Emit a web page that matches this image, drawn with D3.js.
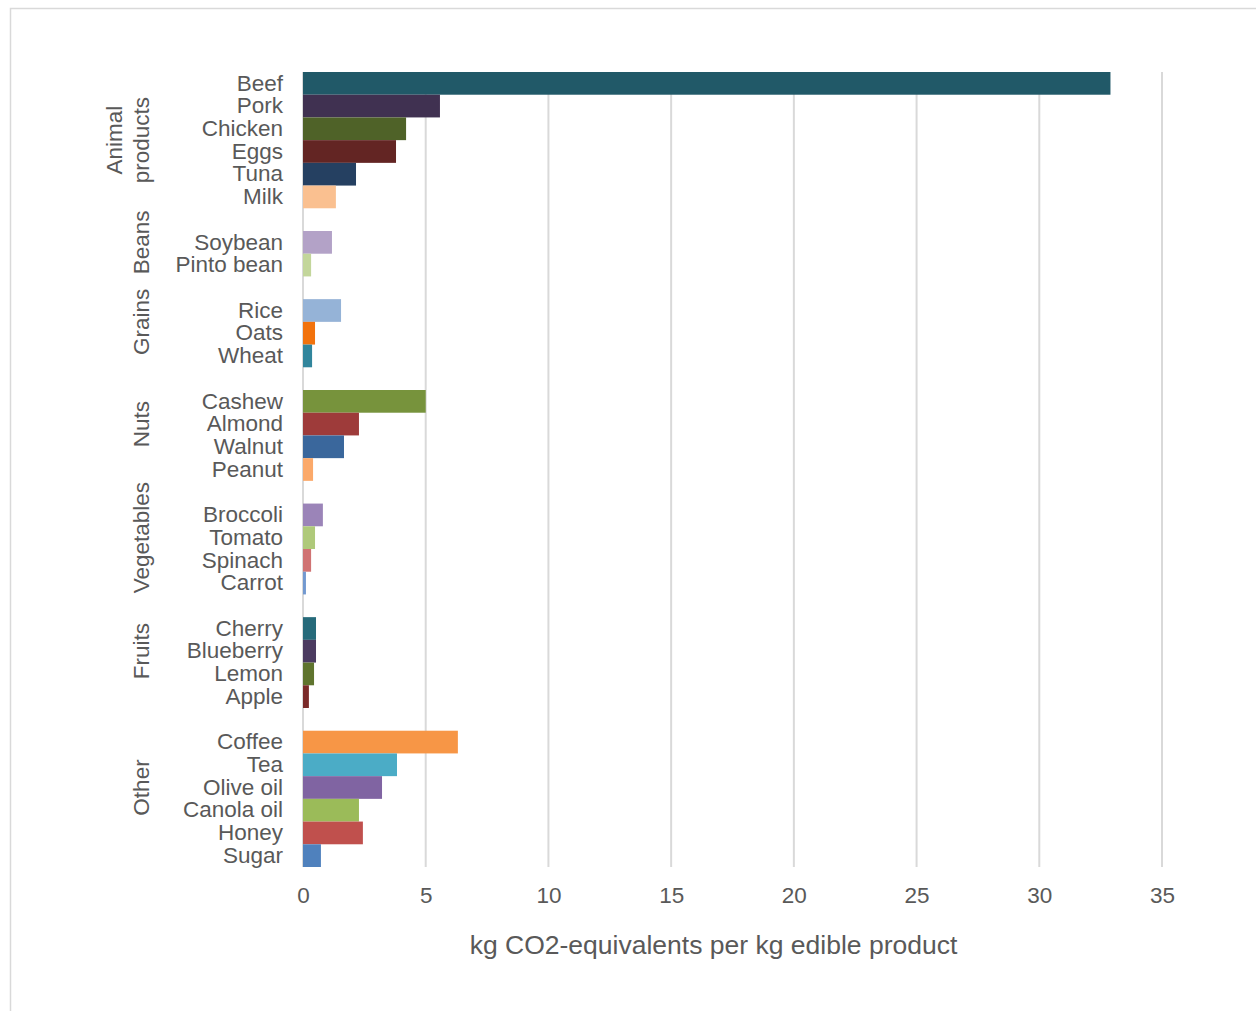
<!DOCTYPE html>
<html>
<head>
<meta charset="utf-8">
<script src="https://cdn.jsdelivr.net/npm/d3@7"></script>
<style>
  html, body { margin: 0; padding: 0; background: #fff; }
  svg { display: block; font-family: "Liberation Sans", Arial, sans-serif; }
</style>
</head>
<body>
<svg id="chart" width="1256" height="1011"></svg>
<script>
// Greenhouse gas emissions per kg of edible product, grouped by food type
const groupNames = ["Animal products", "Beans", "Grains", "Nuts", "Vegetables", "Fruits", "Other"];
const groupSizes = [6, 2, 3, 4, 4, 4, 6];
const categories = [
  "Beef", "Pork", "Chicken", "Eggs", "Tuna", "Milk",
  "Soybean", "Pinto bean",
  "Rice", "Oats", "Wheat",
  "Cashew", "Almond", "Walnut", "Peanut",
  "Broccoli", "Tomato", "Spinach", "Carrot",
  "Cherry", "Blueberry", "Lemon", "Apple",
  "Coffee", "Tea", "Olive oil", "Canola oil", "Honey", "Sugar"
];
const values = [
  32.9, 5.58, 4.2, 3.79, 2.16, 1.34,
  1.18, 0.33,
  1.55, 0.49, 0.37,
  5.0, 2.28, 1.67, 0.41,
  0.81, 0.49, 0.33, 0.12,
  0.53, 0.53, 0.45, 0.24,
  6.31, 3.83, 3.22, 2.28, 2.44, 0.73
];
const barColors = [
  "#215968", "#403151", "#4f6228", "#632523", "#254061", "#fac090",
  "#b3a2c7", "#c3d69b",
  "#95b3d7", "#f2720c", "#31859c",
  "#77933c", "#9e3b3a", "#3a679c", "#fba96a",
  "#9b84b8", "#afc97a", "#d07373", "#7299d0",
  "#266a7a", "#4b3b60", "#5f742e", "#7a2a29",
  "#f79646", "#4bacc6", "#8064a2", "#9bbb59", "#c0504d", "#4f81bd"
];
const xTicks = [0, 5, 10, 15, 20, 25, 30, 35];
const xTitle = "kg CO2-equivalents per kg edible product";

const textColor = "#595959";
const gridColor = "#d9d9d9";
const font = "'Liberation Sans', Arial, sans-serif";

// Build row list: a blank spacer slot precedes every group except the first
const rows = [];
const groupSpans = [];
let k = 0;
groupNames.forEach((g, gi) => {
  const start = rows.length;
  if (gi > 0) rows.push({ key: "gap" + gi, blank: true });
  for (let j = 0; j < groupSizes[gi]; j++, k++) {
    rows.push({ key: categories[k], name: categories[k], value: values[k], color: barColors[k], group: g });
  }
  groupSpans.push({ name: g, first: rows[start].key, last: rows[rows.length - 1].key });
});

const svg = d3.select("#chart");

// outer frame
svg.append("rect")
  .attr("x", 10.5).attr("y", 8.5)
  .attr("width", 1300).attr("height", 1100)
  .attr("fill", "none").attr("stroke", gridColor).attr("stroke-width", 1.5);

const plot = { left: 303, right: 1162, top: 72, bottom: 867 };

const x = d3.scaleLinear().domain([0, 35]).range([plot.left, plot.right]);
const y = d3.scaleBand().domain(rows.map(r => r.key)).range([plot.top, plot.bottom]).padding(0);

// vertical gridlines
svg.append("g").selectAll("line")
  .data(xTicks)
  .join("line")
  .attr("x1", d => x(d)).attr("x2", d => x(d))
  .attr("y1", plot.top).attr("y2", plot.bottom)
  .attr("stroke", gridColor).attr("stroke-width", 2);

// bars
svg.append("g").selectAll("rect")
  .data(rows.filter(r => !r.blank))
  .join("rect")
  .attr("x", x(0))
  .attr("y", d => y(d.key))
  .attr("width", d => x(d.value) - x(0))
  .attr("height", y.bandwidth())
  .attr("fill", d => d.color);

// x axis tick labels
const xAxis = d3.axisBottom(x).tickValues(xTicks).tickSize(0).tickPadding(20);
const xg = svg.append("g").attr("transform", `translate(0,${plot.bottom})`).call(xAxis);
xg.select(".domain").remove();
xg.selectAll("text").attr("fill", textColor).attr("font-size", 22.5).attr("font-family", font);

// category labels
const yAxis = d3.axisLeft(y)
  .tickValues(rows.filter(r => !r.blank).map(r => r.key))
  .tickSize(0).tickPadding(20);
const yg = svg.append("g").attr("transform", `translate(${plot.left},0)`).call(yAxis);
yg.select(".domain").remove();
yg.selectAll("text").attr("fill", textColor).attr("font-size", 22.5).attr("font-family", font);

// group labels, rotated; multi-word names wrap onto two lines
const gl = svg.append("g");
groupSpans.forEach(s => {
  const cy = (y(s.first) + y(s.last) + y.bandwidth()) / 2;
  const words = s.name.split(" ");
  const lines = words.length > 1 ? words : [s.name];
  const lineH = 27;
  const cx = 141 - (lines.length - 1) * lineH;
  const t = gl.append("text")
    .attr("transform", `translate(${cx},${cy}) rotate(-90)`)
    .attr("text-anchor", "middle")
    .attr("fill", textColor)
    .attr("font-family", font)
    .attr("font-size", 22.5);
  lines.forEach((ln, i) => {
    t.append("tspan").attr("x", 0).attr("y", i * lineH).attr("dy", "0.35em").text(ln);
  });
});

// x axis title
svg.append("text")
  .attr("x", 713.5)
  .attr("y", 954)
  .attr("text-anchor", "middle")
  .attr("fill", textColor)
  .attr("font-family", font)
  .attr("font-size", 26.5)
  .text(xTitle);
</script>
</body>
</html>
